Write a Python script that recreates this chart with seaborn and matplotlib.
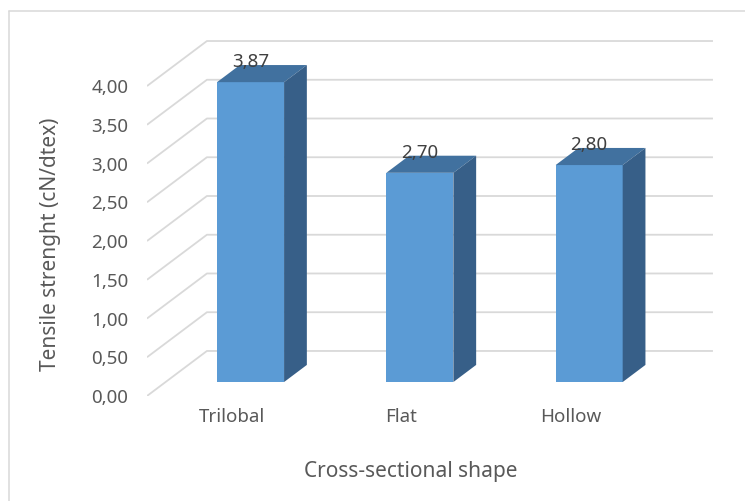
import numpy as np
import seaborn as sns
import matplotlib.pyplot as plt
from matplotlib.patches import Polygon
from matplotlib.lines import Line2D

shapes = ["Trilobal", "Flat", "Hollow"]
strength = [3.87, 2.70, 2.80]
yticks = [0, 0.5, 1.0, 1.5, 2.0, 2.5, 3.0, 3.5, 4.0]

sns.set_style("white")
plt.rcParams['font.family'] = ['Noto Sans', 'DejaVu Sans']

front_col = "#5b9bd5"
top_col = "#41719f"
side_col = "#375f88"
grid_col = "#d9d9d9"
text_col = "#595959"

# depth of the fake 3D box (data units)
depth_x, depth_y = 0.354, 0.581
f_in, f_out = 0.31, 0.69   # where the bars sit inside the depth
fx, fy = depth_x * f_in, depth_y * f_in
bx, by = depth_x * (f_out - f_in), depth_y * (f_out - f_in)

fig = plt.figure(figsize=(7.45, 5.01), dpi=100)
ax = fig.add_axes([0.1973, 0.2096, 0.769, 0.7305])

sns.barplot(x=shapes, y=strength, color=front_col, width=0.396,
            saturation=1, linewidth=0, ax=ax, zorder=3)

x_left, x_right = -0.502, 2.841
for v in yticks:
    ax.plot([x_left, x_left + depth_x, x_right], [v, v + depth_y, v + depth_y],
            color=grid_col, lw=1.3, zorder=1, solid_capstyle='butt')

for p, v in zip(ax.patches, strength):
    p.set_x(p.get_x() + fx)
    p.set_y(fy)
    x0, x1 = p.get_x(), p.get_x() + p.get_width()
    top = fy + v
    ax.add_patch(Polygon([(x0, top), (x1, top), (x1 + bx, top + by), (x0 + bx, top + by)],
                         closed=True, facecolor=top_col, edgecolor='none', zorder=3))
    ax.add_patch(Polygon([(x1, fy), (x1 + bx, fy + by), (x1 + bx, top + by), (x1, top)],
                         closed=True, facecolor=side_col, edgecolor='none', zorder=3))
    ax.text((x0 + x1) / 2, top + by - 0.03, f"{v:.2f}".replace(".", ","),
            ha='center', va='baseline', fontsize=13.5, color="#404040", zorder=4)

ax.set_xlim(-0.502, 2.882)
ax.set_ylim(0, 4.723)
ax.set_yticks(yticks)
ax.set_yticklabels([f"{v:.2f}".replace(".", ",") for v in yticks])
ax.tick_params(axis='y', length=0, pad=13.5, labelsize=13.5, labelcolor=text_col)
ax.tick_params(axis='x', length=0, pad=9, labelsize=13.5, labelcolor=text_col)
ax.set_xlabel("")
ax.set_ylabel("")
sns.despine(ax=ax, left=True, bottom=True)

fig.text(51 / 745, 1 - 371 / 501, "Tensile strenght (cN/dtex)", rotation=90,
         ha='center', va='bottom', fontsize=15, color=text_col)
fig.text(411 / 745, 1 - 471 / 501, "Cross-sectional shape",
         ha='center', va='center', fontsize=15, color=text_col)

# chart frame
fig.add_artist(Line2D([9 / 745, 9 / 745], [1 - 11 / 501, -0.1], color=grid_col, lw=1.1))
fig.add_artist(Line2D([9 / 745, 1.1], [1 - 11 / 501, 1 - 11 / 501], color=grid_col, lw=1.1))

fig.savefig("out.png", dpi=100)
